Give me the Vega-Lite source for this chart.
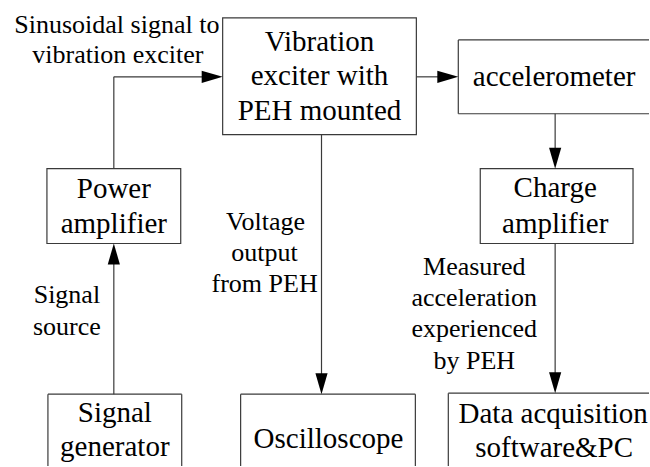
{
  "$schema": "https://vega.github.io/schema/vega-lite/v6.json",
  "width": 650,
  "height": 467,
  "padding": 0,
  "autosize": {"type": "fit", "contains": "padding"},
  "background": "white",
  "config": {"view": {"stroke": null}},
  "datasets": {
    "boxes": [
      {"name": "Vibration exciter", "x0": 223, "y0": 18, "x1": 417, "y1": 135},
      {"name": "Power amplifier", "x0": 47, "y0": 169, "x1": 181, "y1": 244},
      {"name": "Charge amplifier", "x0": 481, "y0": 169, "x1": 634, "y1": 244}
    ],
    "lines": [
      {"x0": 459, "y0": 40, "x1": 650, "y1": 40},
      {"x0": 459, "y0": 114, "x1": 650, "y1": 114},
      {"x0": 459, "y0": 40, "x1": 459, "y1": 114},
      {"x0": 48, "y0": 395, "x1": 182, "y1": 395},
      {"x0": 48, "y0": 395, "x1": 48, "y1": 467},
      {"x0": 182, "y0": 395, "x1": 182, "y1": 467},
      {"x0": 241, "y0": 395, "x1": 416, "y1": 395},
      {"x0": 241, "y0": 395, "x1": 241, "y1": 467},
      {"x0": 416, "y0": 395, "x1": 416, "y1": 467},
      {"x0": 449, "y0": 394, "x1": 650, "y1": 394},
      {"x0": 449, "y0": 394, "x1": 449, "y1": 467},
      {"x0": 114, "y0": 169, "x1": 114, "y1": 77},
      {"x0": 114, "y0": 77, "x1": 205, "y1": 77},
      {"x0": 417, "y0": 77, "x1": 440, "y1": 77},
      {"x0": 556, "y0": 114, "x1": 556, "y1": 150},
      {"x0": 322, "y0": 135, "x1": 322, "y1": 376},
      {"x0": 556, "y0": 244, "x1": 556, "y1": 376},
      {"x0": 114, "y0": 395, "x1": 114, "y1": 262}
    ],
    "arrows": [
      {"x": 223, "y": 77, "dir": "right"},
      {"x": 459, "y": 77, "dir": "right"},
      {"x": 556, "y": 169, "dir": "down"},
      {"x": 322, "y": 395, "dir": "down"},
      {"x": 556, "y": 394, "dir": "down"},
      {"x": 114, "y": 244, "dir": "up"}
    ],
    "labels": [
      {"text": "Vibration", "x": 320, "y": 51, "kind": "box"},
      {"text": "exciter with", "x": 320, "y": 85, "kind": "box"},
      {"text": "PEH mounted", "x": 320, "y": 120, "kind": "box"},
      {"text": "accelerometer", "x": 555, "y": 86, "kind": "box"},
      {"text": "Power", "x": 114, "y": 198, "kind": "box"},
      {"text": "amplifier", "x": 114, "y": 233, "kind": "box"},
      {"text": "Charge", "x": 556, "y": 197, "kind": "box"},
      {"text": "amplifier", "x": 556, "y": 233, "kind": "box"},
      {"text": "Signal", "x": 115, "y": 423, "kind": "box"},
      {"text": "generator", "x": 115, "y": 457, "kind": "box"},
      {"text": "Oscilloscope", "x": 329, "y": 449, "kind": "box"},
      {"text": "Data acquisition", "x": 554, "y": 424, "kind": "box"},
      {"text": "software&PC", "x": 555, "y": 458, "kind": "box"},
      {"text": "Sinusoidal signal to", "x": 117, "y": 33, "kind": "note"},
      {"text": "vibration exciter", "x": 118, "y": 63, "kind": "note"},
      {"text": "Signal", "x": 67, "y": 304, "kind": "note"},
      {"text": "source", "x": 67, "y": 336, "kind": "note"},
      {"text": "Voltage", "x": 266, "y": 230, "kind": "note"},
      {"text": "output", "x": 265, "y": 262, "kind": "note"},
      {"text": "from PEH", "x": 265, "y": 293, "kind": "note"},
      {"text": "Measured", "x": 475, "y": 276, "kind": "note"},
      {"text": "acceleration", "x": 475, "y": 307, "kind": "note"},
      {"text": "experienced", "x": 475, "y": 338, "kind": "note"},
      {"text": "by PEH", "x": 475, "y": 370, "kind": "note"}
    ]
  },
  "layer": [
    {
      "data": {"name": "labels"},
      "transform": [{"filter": "datum.kind === 'box'"}],
      "mark": {"type": "text", "font": "Tinos", "fontSize": 29, "align": "center", "baseline": "alphabetic", "color": "black"},
      "encoding": {
        "x": {"field": "x", "type": "quantitative", "scale": {"domain": [0, 650], "nice": false, "zero": false}, "axis": null},
        "y": {"field": "y", "type": "quantitative", "scale": {"domain": [0, 467], "nice": false, "zero": false, "reverse": true}, "axis": null},
        "text": {"field": "text"}
      }
    },
    {
      "data": {"name": "labels"},
      "transform": [{"filter": "datum.kind === 'note'"}],
      "mark": {"type": "text", "font": "Tinos", "fontSize": 26, "align": "center", "baseline": "alphabetic", "color": "black"},
      "encoding": {
        "x": {"field": "x", "type": "quantitative"},
        "y": {"field": "y", "type": "quantitative"},
        "text": {"field": "text"}
      }
    },
    {
      "data": {"name": "boxes"},
      "mark": {"type": "rect", "fill": "transparent", "stroke": "#3a3a3a", "strokeWidth": 1.2},
      "encoding": {
        "x": {"field": "x0", "type": "quantitative"},
        "x2": {"field": "x1"},
        "y": {"field": "y0", "type": "quantitative"},
        "y2": {"field": "y1"}
      }
    },
    {
      "data": {"name": "lines"},
      "mark": {"type": "rule", "stroke": "#3a3a3a", "strokeWidth": 1.2},
      "encoding": {
        "x": {"field": "x0", "type": "quantitative"},
        "x2": {"field": "x1"},
        "y": {"field": "y0", "type": "quantitative"},
        "y2": {"field": "y1"}
      }
    },
    {
      "data": {"name": "arrows"},
      "mark": {"type": "point", "filled": true, "color": "black", "opacity": 1, "size": 1764, "strokeWidth": 0},
      "encoding": {
        "x": {"field": "x", "type": "quantitative"},
        "y": {"field": "y", "type": "quantitative"},
        "shape": {
          "field": "dir", "type": "nominal", "legend": null,
          "scale": {
            "domain": ["right", "down", "up"],
            "range": ["M-1,-0.29L0,0L-1,0.29Z", "M-0.29,-1L0,0L0.29,-1Z", "M-0.29,1L0,0L0.29,1Z"]
          }
        }
      }
    }
  ]
}
